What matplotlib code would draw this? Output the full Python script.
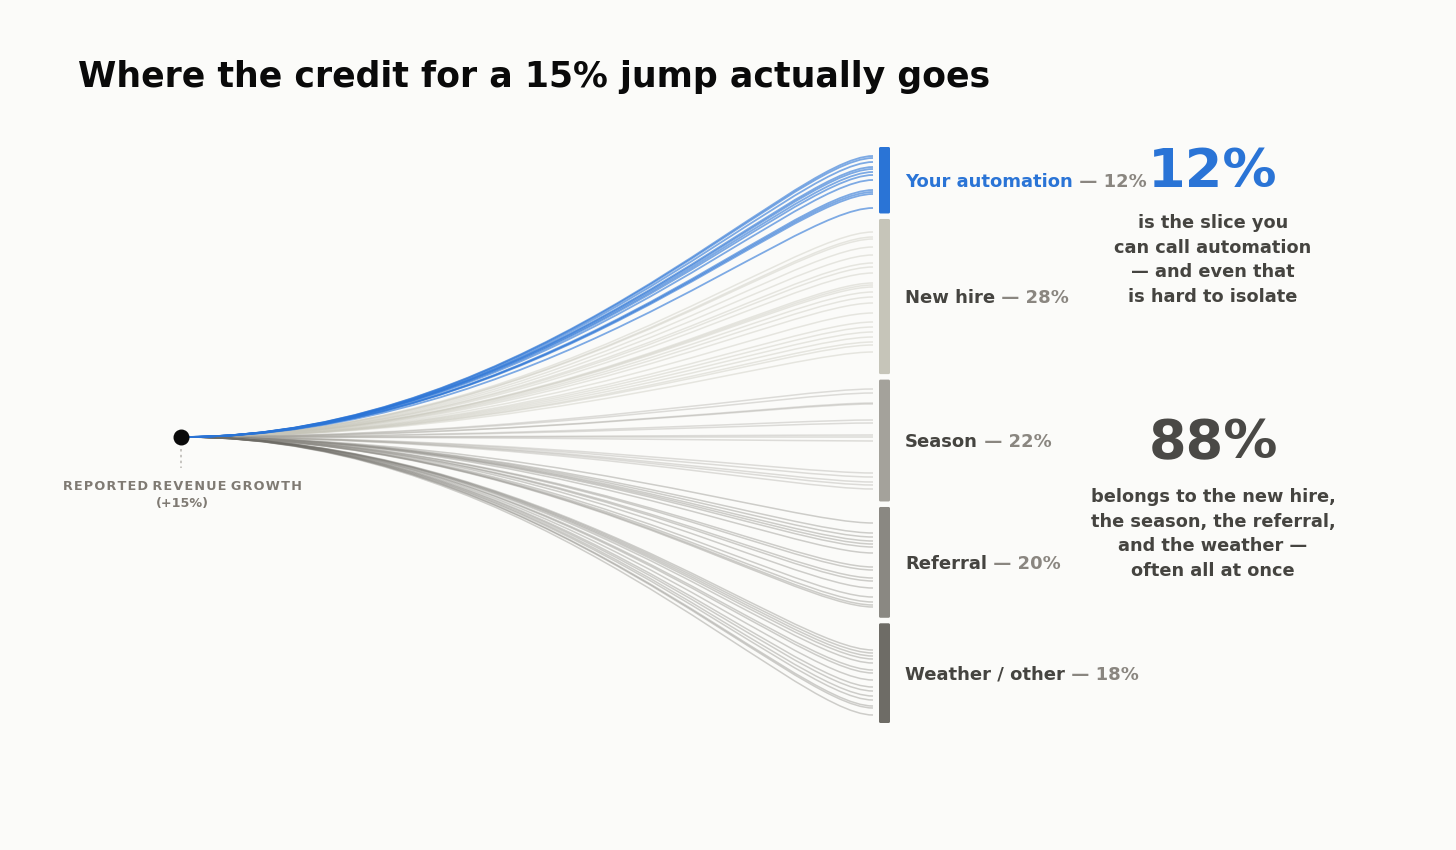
import matplotlib.pyplot as plt
from matplotlib.path import Path
from matplotlib.patches import PathPatch, FancyBboxPatch

plt.rcParams['font.family'] = ['DejaVu Sans']

# categories and their share of the 15% jump
categories = ["Your automation", "New hire", "Season", "Referral", "Weather / other"]
shares = [12, 28, 22, 20, 18]

# end heights (pixels) of the individual strands
ends_automation = [156, 158, 162, 167, 169, 172, 175, 180, 190, 192, 194, 208]
ends_new_hire = [232, 237, 239, 247, 255, 263, 267, 273, 283, 285, 287, 292,
                 297, 303, 313, 322, 327, 332, 337, 342, 345, 352]
ends_season = [389, 393, 403, 404, 420, 423, 435, 437, 441, 473, 477, 482, 485, 489]
ends_referral = [523, 533, 537, 541, 544, 547, 553, 567, 570, 578, 581, 588,
                 597, 602, 605, 607]
ends_weather = [650, 653, 656, 659, 663, 670, 673, 680, 687, 691, 696, 700,
                706, 708, 715]
strand_ends = [ends_automation, ends_new_hire, ends_season, ends_referral, ends_weather]

BG = "#FBFBF9"
BLUE = "#2A74D6"
bar_colors = [BLUE, "#C6C5B9", "#A4A29B", "#8A8882", "#6E6C66"]
strand_alpha = [0.6, 0.4, 0.35, 0.4, 0.32]

fig = plt.figure(figsize=(14.56, 8.5), dpi=100, facecolor=BG)
ax = fig.add_axes([0, 0, 1, 1])
ax.set_xlim(0, 1456)
ax.set_ylim(850, 0)
ax.axis("off")
ax.set_facecolor(BG)

x0, y0 = 182, 437
x1 = 873
dx = x1 - x0

# strands, grey ones first so the blue sits on top
for k in [1, 2, 3, 4, 0]:
    for ye in strand_ends[k]:
        verts = [(x0, y0), (x0 + 0.51 * dx, y0), (x0 + 0.88 * dx, ye), (x1, ye)]
        codes = [Path.MOVETO, Path.CURVE4, Path.CURVE4, Path.CURVE4]
        ax.add_patch(PathPatch(Path(verts, codes), fill=False,
                               edgecolor=bar_colors[k], alpha=strand_alpha[k],
                               lw=1.3 if k == 0 else 1.1, zorder=3 if k == 0 else 2))

# stacked bar
top, bottom, gap = 147, 723, 5.5
usable = bottom - top - gap * (len(shares) - 1)
y = top
for name, s, c in zip(categories, shares, bar_colors):
    h = usable * s / sum(shares)
    ax.add_patch(FancyBboxPatch((879, y), 11, h, boxstyle="round,pad=0,rounding_size=1.5",
                                fc=c, ec="none", zorder=4))
    mid = y + h / 2 + 1.5
    t = ax.text(905, mid, name, fontsize=13, fontweight="bold",
                color=BLUE if name == categories[0] else "#454440", va="center", ha="left")
    ax.annotate(f" \u2014 {s}%", xy=(1, 0.5), xycoords=t, va="center", ha="left",
                fontsize=13, fontweight="bold", color="#8A8680")
    y += h + gap

# origin dot and label
ax.plot([x0 - 1, x0 - 1], [449, 468], color="#BDBBB6", lw=1.2, ls=(0, (1.5, 2)), zorder=1)
ax.scatter([x0 - 1], [y0], s=110, color="#0A0A0A", zorder=6)
ax.text(x0, 486, "R E P O R T E D   R E V E N U E   G R O W T H".replace(" ", "\u200a").replace("\u200a\u200a\u200a", " "),
        fontsize=9.2, fontweight="bold", color="#7F7A73", ha="center", va="center")
ax.text(x0, 503, "(+15%)", fontsize=9.2, fontweight="bold", color="#7F7A73",
        ha="center", va="center")

# right-hand callouts
ax.text(1213, 172, "12%", fontsize=39, fontweight="bold", color=BLUE, ha="center", va="center")
ax.text(1213, 260, "is the slice you\ncan call automation\n\u2014 and even that\nis hard to isolate",
        fontsize=12.8, fontweight="bold", color="#454440", ha="center", va="center",
        linespacing=1.47)
ax.text(1213, 443, "88%", fontsize=39, fontweight="bold", color="#4A4946", ha="center", va="center")
ax.text(1213, 534, "belongs to the new hire,\nthe season, the referral,\nand the weather \u2014\noften all at once",
        fontsize=12.8, fontweight="bold", color="#454440", ha="center", va="center",
        linespacing=1.47)

ax.text(78, 77, "Where the credit for a 15% jump actually goes", fontsize=25,
        fontweight="bold", color="#0A0A0A", ha="left", va="center")

fig.savefig("out.png", dpi=100, facecolor=BG)
